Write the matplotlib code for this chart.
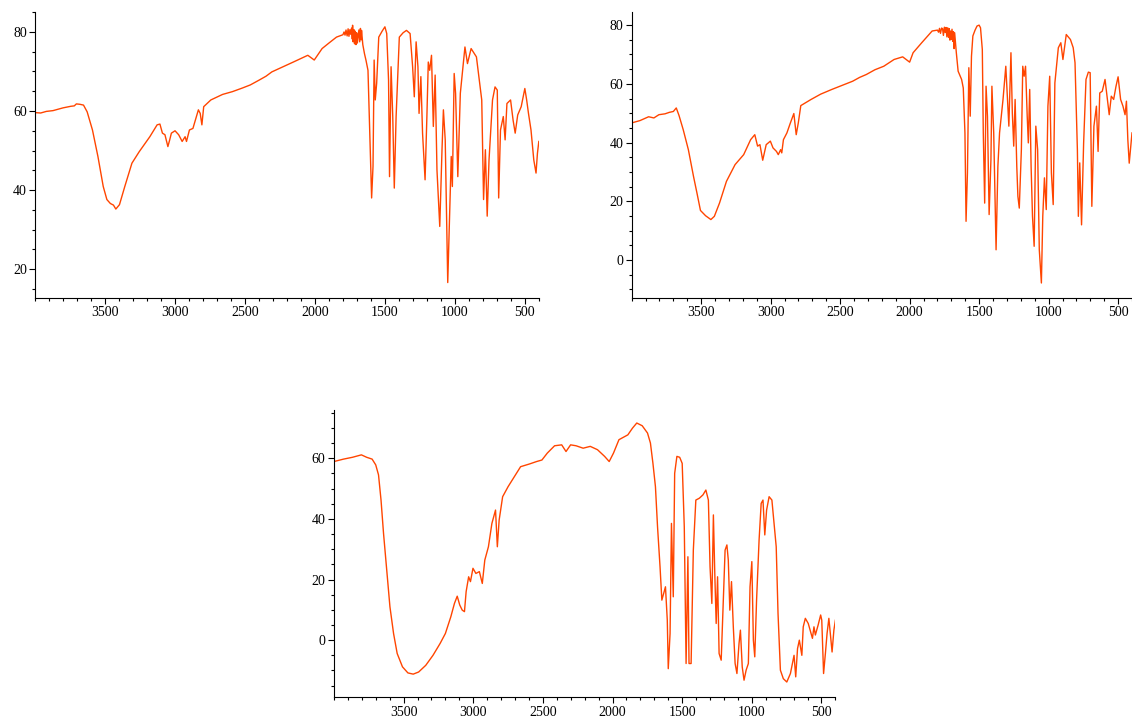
import matplotlib
matplotlib.use("Agg")
import matplotlib.pyplot as plt
from matplotlib.ticker import FixedLocator, MultipleLocator

plt.rcParams['font.family'] = ['Liberation Serif', 'DejaVu Serif']

# spectrum 1 (top left)
wn1 = [4000, 3960, 3920, 3872, 3840, 3800, 3770, 3744, 3720, 3705, 3680, 3654, 3628, 3590,
       3551, 3513, 3487, 3462, 3440, 3423, 3397, 3359, 3308, 3256, 3180, 3128, 3108, 3090,
       3072, 3051, 3038, 3026, 3000, 2974, 2949, 2928, 2918, 2897, 2872, 2833, 2820, 2808,
       2795, 2744, 2660, 2590, 2520, 2462, 2400, 2350, 2308, 2240, 2154, 2100, 2051, 2005,
       1949, 1900, 1846,
       1800, 1792, 1785, 1778, 1770, 1763, 1757, 1750, 1744, 1738, 1733, 1731, 1727, 1722,
       1717, 1712, 1707, 1702, 1697, 1692, 1686, 1680, 1675, 1670, 1667,
       1658, 1646, 1635, 1621, 1608, 1595, 1585, 1577, 1569, 1559, 1544, 1520,
       1500, 1487, 1474, 1467, 1456, 1444, 1433, 1420, 1397, 1370, 1346, 1320, 1302, 1290,
       1277, 1264, 1256, 1243, 1231, 1213, 1200, 1190, 1180, 1167, 1154, 1141, 1128, 1108,
       1092, 1082, 1069, 1051, 1036, 1026, 1018, 1005, 995, 979, 961, 928, 910, 884, 846,
       808, 795, 782, 769, 756, 731, 713, 697, 687, 674, 654, 641, 628, 602, 584, 569, 551,
       526, 500, 487, 474, 456, 436, 420, 410, 400]
t1 = [59.6, 59.5, 59.9, 60.1, 60.4, 60.8, 61.0, 61.2, 61.3, 61.8, 61.7, 61.5, 59.8, 55.2,
      48.5, 40.9, 37.6, 36.6, 36.2, 35.2, 36.3, 40.9, 46.8, 49.7, 53.5, 56.5, 56.7, 54.4,
      54.0, 51.0, 52.7, 54.4, 55.0, 54.0, 52.3, 53.5, 52.3, 55.2, 55.6, 60.3, 59.4, 56.5,
      61.1, 62.8, 64.2, 64.9, 65.8, 66.6, 67.8, 68.8, 69.9, 71.0, 72.4, 73.3, 74.1, 72.9,
      75.8, 77.2, 78.7,
      79.3, 80.0, 79.2, 80.5, 79.0, 80.8, 78.9, 80.6, 79.4, 81.0, 78.2, 81.7, 77.5, 80.6,
      77.0, 80.2, 76.8, 79.8, 77.2, 78.7, 80.5, 77.5, 80.9, 78.0, 80.4,
      76.8, 74.5, 72.8, 70.3, 54.4, 38.0, 46.0, 72.9, 62.8, 67.0, 78.7, 80.2,
      81.3, 79.6, 67.8, 43.4, 71.2, 58.6, 40.5, 58.6, 78.7, 79.8, 80.4, 79.6, 71.2, 63.6,
      77.5, 71.2, 59.4, 68.7, 54.4, 42.6, 58.6, 72.4, 70.3, 74.1, 56.1, 69.1, 45.1, 30.8,
      50.2, 60.3, 52.7, 16.6, 35.9, 48.5, 40.9, 69.5, 64.5, 43.4, 64.5, 76.2, 72.0, 75.8,
      73.7, 62.8, 37.6, 50.2, 33.4, 47.6, 62.8, 66.1, 65.3, 38.0, 55.2, 58.6, 52.7, 61.9,
      62.8, 57.7, 54.4, 59.0, 61.1, 65.7, 62.8, 59.4, 55.2, 47.6, 44.3, 49.3, 52.3]

# spectrum 2 (top right)
wn2 = [4000, 3940, 3878, 3840, 3804, 3760, 3729, 3700, 3679, 3659, 3629, 3592, 3555, 3530,
       3505, 3468, 3430, 3405, 3368, 3318, 3256, 3194, 3144, 3114, 3094, 3077, 3057, 3032,
       3002, 2983, 2958, 2945, 2928, 2920, 2908, 2883, 2858, 2833, 2816, 2801, 2783, 2709,
       2640, 2560, 2480, 2410, 2360, 2311, 2250, 2186, 2112, 2050, 2000, 1975, 1913, 1838,
       1800, 1792, 1785, 1778, 1770, 1763, 1757, 1750, 1744, 1738, 1732, 1726, 1720, 1715,
       1710, 1705, 1701, 1695, 1690, 1685, 1680, 1676,
       1664, 1651, 1626, 1614,
       1602, 1594, 1584, 1574, 1564, 1555, 1545, 1530, 1515, 1500, 1490, 1477, 1470, 1460,
       1450, 1440, 1428, 1415, 1408, 1395, 1378, 1365, 1353, 1328, 1308, 1296, 1286, 1271,
       1261, 1251, 1241, 1229, 1221, 1211, 1196, 1186, 1176, 1166, 1154, 1146, 1136, 1126,
       1116, 1104, 1092, 1079, 1067, 1052, 1042, 1030, 1017, 1005, 992, 980, 967, 955, 930,
       912, 897, 873, 843, 823, 810, 793, 786, 776, 763, 748, 731, 714, 701, 689, 674, 656,
       644, 632, 614, 594, 577, 564, 549, 532, 515, 500, 482, 465, 450, 440, 430, 420, 400]
t2 = [46.7, 47.5, 48.8, 48.4, 49.5, 49.8, 50.3, 50.6, 51.8, 49.2, 44.4, 37.6, 28.5, 22.8,
      16.9, 15.1, 13.8, 14.9, 19.4, 26.8, 32.5, 35.9, 41.0, 42.7, 38.8, 39.3, 34.0, 39.3,
      40.5, 38.2, 37.0, 35.9, 37.6, 36.5, 41.0, 43.3, 46.7, 49.9, 42.7, 46.7, 52.6, 54.7,
      56.5, 58.1, 59.6, 60.9, 62.2, 63.2, 64.8, 66.0, 68.3, 69.2, 67.4, 70.6, 74.0, 78.0,
      78.3, 77.6, 78.9, 77.2, 79.0, 78.8, 76.5, 79.3, 77.5, 79.2, 76.0, 79.1, 75.8, 78.8,
      74.9, 78.0, 75.1, 78.6, 74.5, 77.8, 72.0, 77.4,
      70.6, 64.3, 61.5, 58.6,
      43.3, 13.2, 29.7, 65.5, 49.0, 69.4, 76.3, 78.2, 79.7, 80.0, 79.1, 71.7, 43.3, 19.4,
      59.2, 49.0, 15.5, 34.2, 59.2, 43.3, 3.5, 31.9, 43.3, 54.7, 66.0, 54.7, 45.6, 70.6,
      50.1, 38.8, 54.7, 31.9, 21.7, 17.7, 37.6, 66.0, 62.6, 66.0, 49.0, 39.9, 58.1, 31.9,
      14.9, 4.7, 45.6, 37.6, 3.5, -7.8, 14.9, 28.0, 17.2, 52.4, 62.6, 29.7, 18.9, 60.3, 72.3,
      74.0, 68.3, 76.8, 75.1, 72.3, 67.2, 37.6, 14.9, 33.1, 12.0, 39.9, 61.5, 64.0, 63.8,
      18.3, 45.6, 52.4, 37.0, 56.9, 57.5, 61.5, 54.7, 49.5, 55.8, 54.7, 59.2, 62.4, 54.7,
      52.4, 49.5, 54.1, 41.0, 33.0, 43.3]

# spectrum 3 (bottom)
wn3 = [4000, 3931, 3867, 3803, 3765, 3726, 3700, 3680, 3662, 3644, 3623, 3598, 3572, 3546,
       3508, 3469, 3431, 3392, 3341, 3289, 3238, 3200, 3161, 3135, 3115, 3097, 3079, 3063,
       3051, 3033, 3020, 3002, 2981, 2956, 2935, 2917, 2891, 2866, 2840, 2827, 2814, 2789,
       2750, 2712, 2660, 2596, 2545, 2507, 2468, 2416, 2365, 2334, 2301, 2262, 2211, 2160,
       2108, 2057, 2024, 1993, 1954, 1890, 1857, 1826, 1787, 1749, 1728, 1710, 1692, 1677,
       1659, 1646, 1633, 1620, 1607, 1600, 1587, 1577, 1564, 1554, 1538, 1518, 1500, 1485,
       1472, 1459, 1451, 1436, 1420, 1402, 1377, 1351, 1330, 1312, 1300, 1287, 1276, 1266,
       1256, 1246, 1235, 1220, 1205, 1192, 1179, 1169, 1158, 1146, 1133, 1120, 1107, 1092,
       1082, 1069, 1056, 1041, 1025, 1013, 1000, 989, 979, 966, 948, 933, 920, 907, 894, 876,
       856, 838, 825, 812, 795, 774, 749, 723, 697, 685, 672, 659, 641, 631, 616, 595, 575,
       565, 554, 544, 524, 506, 498, 485, 472, 460, 447, 437, 424, 411, 400]
t3 = [58.9, 59.7, 60.3, 61.1, 60.3, 59.7, 57.8, 54.5, 46.2, 35.2, 24.2, 11.0, 2.2, -4.4,
      -8.8, -10.8, -11.2, -10.5, -8.3, -5.0, -1.1, 2.2, 7.7, 12.1, 14.5, 11.6, 9.9, 9.4,
      16.0, 20.9, 19.3, 23.7, 22.0, 22.6, 18.7, 26.4, 30.8, 38.5, 42.9, 30.8, 39.6, 47.3,
      50.6, 53.4, 57.2, 58.1, 58.9, 59.4, 61.7, 64.1, 64.4, 62.2, 64.4, 64.1, 63.3, 63.9,
      62.8, 60.6, 58.9, 61.7, 66.1, 67.7, 69.9, 71.6, 70.7, 68.3, 65.0, 58.3, 50.6, 37.4,
      24.2, 13.2, 15.4, 17.6, 6.6, -9.4, 2.2, 38.5, 14.3, 55.0, 60.6, 60.3, 58.3, 37.4,
      -7.7, 27.5, -7.7, -7.7, 29.7, 46.2, 46.8, 47.9, 49.5, 46.2, 24.2, 12.1, 41.3, 22.0,
      5.5, 20.9, -4.4, -6.6, 13.2, 29.7, 31.4, 26.4, 9.9, 19.3, 4.4, -7.7, -11.0, -1.1,
      3.3, -8.8, -13.2, -9.9, -7.7, 17.6, 25.9, 0.0, -5.5, 13.2, 33.0, 45.1, 46.2, 34.7,
      42.9, 47.3, 46.2, 37.4, 30.8, 8.8, -9.9, -12.7, -13.8, -11.0, -5.0, -12.1, -2.8, 0.0,
      -5.0, 4.4, 7.2, 5.5, 2.2, 0.6, 4.4, 1.7, 5.0, 8.3, 6.6, -11.0, -4.4, 2.2, 7.2, 2.2,
      -3.9, 3.3, 6.6]

x_major = [500, 1000, 1500, 2000, 2500, 3000, 3500]

fig = plt.figure(figsize=(11.32, 7.18), dpi=100)

panels = [
    ([0.031, 0.585, 0.445, 0.398], wn1, t1, (12.7, 85.0), [20, 40, 60, 80]),
    ([0.558, 0.585, 0.442, 0.398], wn2, t2, (-12.9, 84.4), [0, 20, 40, 60, 80]),
    ([0.295, 0.029, 0.443, 0.400], wn3, t3, (-18.8, 75.9), [0, 20, 40, 60]),
]

for rect, wn, t, ylim, yt in panels:
    ax = fig.add_axes(rect)
    ax.plot(wn, t, color='#ff4500', lw=1.0)
    ax.set_xlim(4000, 400)
    ax.set_ylim(*ylim)
    ax.spines['top'].set_visible(False)
    ax.spines['right'].set_visible(False)
    ax.xaxis.set_major_locator(FixedLocator(x_major))
    ax.xaxis.set_minor_locator(MultipleLocator(100))
    ax.yaxis.set_major_locator(FixedLocator(yt))
    ax.yaxis.set_minor_locator(MultipleLocator(5))
    ax.tick_params(which='major', length=4, width=0.8, labelsize=10, pad=2)
    ax.tick_params(which='minor', length=2.5, width=0.8)

fig.savefig('out.png', dpi=100)
